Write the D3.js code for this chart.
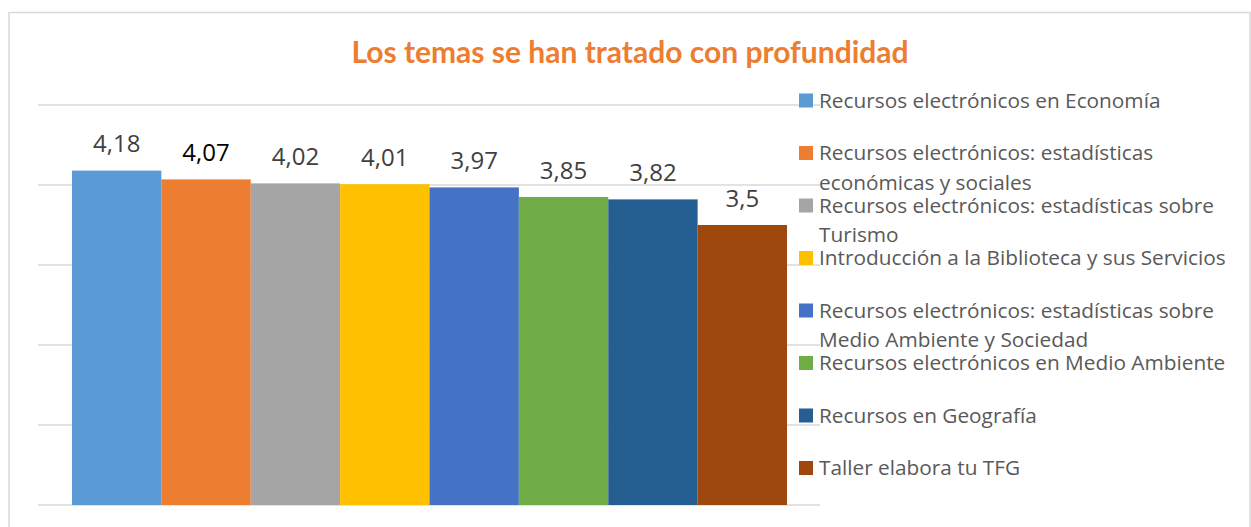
<!DOCTYPE html>
<html lang="es">
<head>
<meta charset="UTF-8">
<title>Los temas se han tratado con profundidad</title>
<script src="https://cdn.jsdelivr.net/npm/d3@7"></script>
<style>
  body { margin: 0; background: #fff; }
  svg { display: block; }
  text { font-family: "Open Sans", sans-serif; }
</style>
</head>
<body>
<svg id="chart" width="1251" height="527"></svg>
<script>
// data
const seriesNames = [
  "Recursos electrónicos en Economía",
  "Recursos electrónicos: estadísticas económicas y sociales",
  "Recursos electrónicos: estadísticas sobre Turismo",
  "Introducción a la Biblioteca y sus Servicios",
  "Recursos electrónicos: estadísticas sobre Medio Ambiente y Sociedad",
  "Recursos electrónicos en Medio Ambiente",
  "Recursos en Geografía",
  "Taller elabora tu TFG"
];
const seriesValues = [4.18, 4.07, 4.02, 4.01, 3.97, 3.85, 3.82, 3.5];
const valueLabels = ["4,18", "4,07", "4,02", "4,01", "3,97", "3,85", "3,82", "3,5"];
const gridTicks = [0, 1, 2, 3, 4, 5];
const colors = ["#5B9BD5", "#ED7D31", "#A5A5A5", "#FFC000", "#4472C4", "#70AD47", "#255E91", "#9E480E"];

const svg = d3.select("#chart");

// outer frame
svg.append("rect")
  .attr("x", 9).attr("y", 12.5)
  .attr("width", 1241).attr("height", 530)
  .attr("fill", "none")
  .attr("stroke", "#d9d9d9")
  .attr("stroke-width", 1.5);

// title
svg.append("text")
  .attr("x", 630).attr("y", 63)
  .attr("text-anchor", "middle")
  .attr("fill", "#ED7D31")
  .style("font-family", "Lato, sans-serif")
  .style("font-weight", 700)
  .style("font-size", "30px")
  .text("Los temas se han tratado con profundidad");

const y = d3.scaleLinear().domain([0, 5]).range([505, 105]);
const x = d3.scaleBand().domain(d3.range(seriesValues.length)).range([72, 787]).padding(0);

// gridlines
svg.append("g").selectAll("line")
  .data(gridTicks)
  .join("line")
  .attr("x1", 38).attr("x2", 820)
  .attr("y1", d => y(d)).attr("y2", d => y(d))
  .attr("stroke", "#d9d9d9")
  .attr("stroke-width", 1.5);

// bars
svg.append("g").selectAll("rect")
  .data(seriesValues)
  .join("rect")
  .attr("x", (d, i) => x(i))
  .attr("width", x.bandwidth())
  .attr("y", d => y(d))
  .attr("height", d => y(0) - y(d))
  .attr("fill", (d, i) => colors[i]);

// value labels
svg.append("g").selectAll("text")
  .data(seriesValues)
  .join("text")
  .attr("x", (d, i) => x(i) + x.bandwidth() / 2)
  .attr("y", d => y(d) - 18.5)
  .attr("text-anchor", "middle")
  .attr("fill", (d, i) => i === 1 ? "#000" : "#404040")
  .style("font-size", "24px")
  .text((d, i) => valueLabels[i]);

// legend
const legend = svg.append("g");
const maxW = 418;
seriesNames.forEach((name, i) => {
  const base = 107.5 + i * 52.5;
  legend.append("rect")
    .attr("x", 799).attr("y", base - 14)
    .attr("width", 14).attr("height", 14)
    .attr("fill", colors[i]);
  const t = legend.append("text")
    .attr("x", 819).attr("y", base)
    .attr("fill", "#595959")
    .style("font-size", "20.8px");
  // simple word wrap
  const words = name.split(" ");
  let line = [];
  let tspan = t.append("tspan").attr("x", 819).attr("y", base);
  let lineNo = 0;
  words.forEach(w => {
    line.push(w);
    tspan.text(line.join(" "));
    if (tspan.node().getComputedTextLength() > maxW && line.length > 1) {
      line.pop();
      tspan.text(line.join(" "));
      line = [w];
      lineNo++;
      tspan = t.append("tspan").attr("x", 819).attr("y", base + lineNo * 29.5).text(w);
    }
  });
});
</script>
</body>
</html>
